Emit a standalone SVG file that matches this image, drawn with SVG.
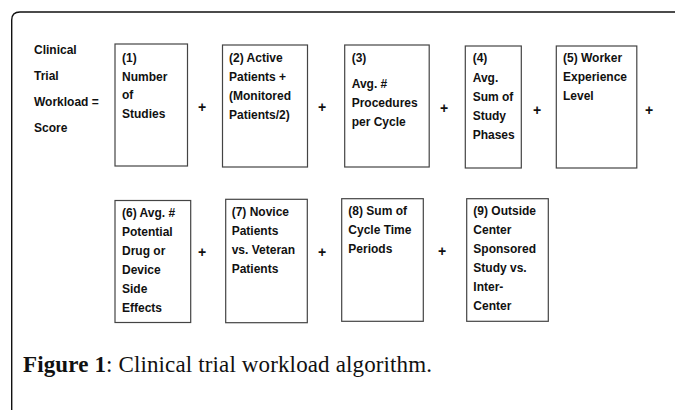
<svg xmlns="http://www.w3.org/2000/svg" width="675" height="410" viewBox="0 0 675 410">
<style>
.t{font-family:"Liberation Sans",Arial,sans-serif;font-weight:bold;font-size:12px;fill:#111}
.p{font-family:"Liberation Sans",Arial,sans-serif;font-weight:bold;font-size:14px;fill:#111;text-anchor:middle}
.b{fill:#fff;stroke:#444;stroke-width:1.2}
.cap{font-family:"Liberation Serif","Times New Roman",serif;font-size:23px;fill:#111}
</style>
<rect width="675" height="410" fill="#fff"/>
<path d="M11.7,420 V20 Q11.7,12 20,12 H680" fill="none" stroke="#111" stroke-width="1.4"/>
<g id="label">
<text class="t" x="34" y="54">Clinical</text>
<text class="t" x="34" y="79.5">Trial</text>
<text class="t" x="34" y="105.5">Workload =</text>
<text class="t" x="34" y="131.5">Score</text>
</g>
<g id="n1"><rect class="b" x="115" y="44" width="72.5" height="122"/>
<text class="t"><tspan x="122" y="62">(1)</tspan><tspan x="122" y="80.5">Number</tspan><tspan x="122" y="99">of</tspan><tspan x="122" y="117.5">Studies</tspan></text></g>
<g id="n2"><rect class="b" x="222.5" y="45" width="85" height="122"/>
<text class="t"><tspan x="229" y="62.3">(2) Active</tspan><tspan x="229" y="81.3">Patients +</tspan><tspan x="229" y="100.3">(Monitored</tspan><tspan x="229" y="119.3">Patients/2)</tspan></text></g>
<g id="n3"><rect class="b" x="344.7" y="45" width="84.5" height="122"/>
<text class="t"><tspan x="351.7" y="62.3">(3)</tspan><tspan x="351.7" y="88.3">Avg. #</tspan><tspan x="351.7" y="107.3">Procedures</tspan><tspan x="351.7" y="126.3">per Cycle</tspan></text></g>
<g id="n4"><rect class="b" x="465.3" y="46" width="56" height="122"/>
<text class="t"><tspan x="472.7" y="62.3">(4)</tspan><tspan x="472.7" y="81.7">Avg.</tspan><tspan x="472.7" y="100.7">Sum of</tspan><tspan x="472.7" y="120">Study</tspan><tspan x="472.7" y="139">Phases</tspan></text></g>
<g id="n5"><rect class="b" x="556.3" y="46" width="80.5" height="122"/>
<text class="t"><tspan x="563" y="62.3">(5) Worker</tspan><tspan x="563" y="81.3">Experience</tspan><tspan x="563" y="100.3">Level</tspan></text></g>
<g id="n6"><rect class="b" x="115" y="200.5" width="75.7" height="122"/>
<text class="t"><tspan x="122" y="216.7">(6) Avg. #</tspan><tspan x="122" y="235.8">Potential</tspan><tspan x="122" y="255">Drug or</tspan><tspan x="122" y="274.2">Device</tspan><tspan x="122" y="293.3">Side</tspan><tspan x="122" y="312.4">Effects</tspan></text></g>
<g id="n7"><rect class="b" x="225.7" y="199.3" width="81.6" height="123.4"/>
<text class="t"><tspan x="231.7" y="215.7">(7) Novice</tspan><tspan x="231.7" y="234.9">Patients</tspan><tspan x="231.7" y="254">vs. Veteran</tspan><tspan x="231.7" y="273">Patients</tspan></text></g>
<g id="n8"><rect class="b" x="341.7" y="198.7" width="81.6" height="122.6"/>
<text class="t"><tspan x="348.3" y="215">(8) Sum of</tspan><tspan x="348.3" y="234.3">Cycle Time</tspan><tspan x="348.3" y="253.3">Periods</tspan></text></g>
<g id="n9"><rect class="b" x="466.7" y="198.7" width="81.6" height="122.6"/>
<text class="t"><tspan x="473.3" y="215">(9) Outside</tspan><tspan x="473.3" y="234.3">Center</tspan><tspan x="473.3" y="253.3">Sponsored</tspan><tspan x="473.3" y="272.3">Study vs.</tspan><tspan x="473.3" y="291.3">Inter-</tspan><tspan x="473.3" y="310.3">Center</tspan></text></g>
<g id="connectors">
<text class="p" x="202" y="112">+</text>
<text class="p" x="322" y="112">+</text>
<text class="p" x="444" y="113">+</text>
<text class="p" x="537" y="115">+</text>
<text class="p" x="649" y="115">+</text>
<text class="p" x="202" y="257">+</text>
<text class="p" x="322" y="257">+</text>
<text class="p" x="442" y="256">+</text>
</g>
<text class="cap" x="23" y="371.7" textLength="409" lengthAdjust="spacing"><tspan font-weight="bold">Figure 1</tspan>: Clinical trial workload algorithm.</text>
</svg>
